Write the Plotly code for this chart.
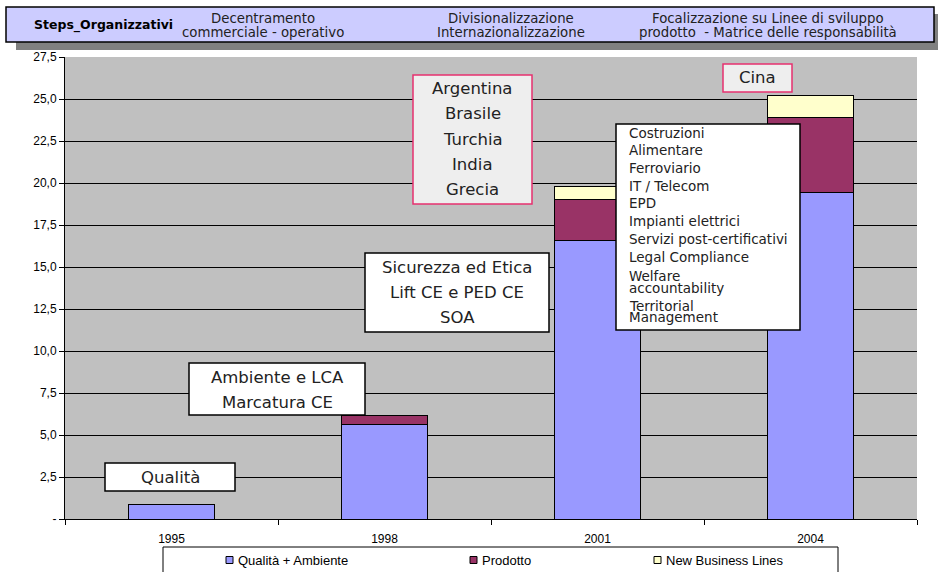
import plotly.graph_objects as go

# ---------------- data ----------------
years = ["1995", "1998", "2001", "2004"]
qualita_ambiente = [0.85, 5.65, 16.6, 19.45]
prodotto = [None, 0.5, 2.4, 4.47]
new_business_lines = [None, None, 0.8, 1.27]
series_names = ["Qualità + Ambiente", "Prodotto", "New Business Lines"]
series_colors = ["#9999FF", "#993366", "#FFFFCC"]

y_tickvals = [0, 2.5, 5, 7.5, 10, 12.5, 15, 17.5, 20, 22.5, 25, 27.5]
y_ticktext = ["-", "2,5", "5,0", "7,5", "10,0", "12,5", "15,0", "17,5",
              "20,0", "22,5", "25,0", "27,5"]

header_title = "Steps_Organizzativi"
header_steps = [
    ["Decentramento", "commerciale - operativo"],
    ["Divisionalizzazione", "Internazionalizzazione"],
    ["Focalizzazione su Linee di sviluppo", "prodotto  - Matrice delle responsabilità"],
]

box_qualita = ["Qualità"]
box_ambiente = ["Ambiente e LCA", "Marcatura CE"]
box_sicurezza = ["Sicurezza ed Etica", "Lift CE e PED CE", "SOA"]
box_paesi = ["Argentina", "Brasile", "Turchia", "India", "Grecia"]
box_cina = ["Cina"]
box_settori = ["Costruzioni", "Alimentare", "Ferroviario", "IT / Telecom", "EPD",
               "Impianti elettrici", "Servizi post-certificativi", "Legal Compliance",
               "Welfare", "accountability", "Territorial", "Management"]

# ---------------- layout geometry (pixels) ----------------
W, H = 938, 572
L, R, T, B = 65, 917, 57, 519
PW, PH = R - L, B - T


def px(x):
    return (x - L) / PW


def py(y):
    return (B - y) / PH


BOX_FONT = "DejaVu Sans, Verdana, sans-serif"
ARIAL = "Liberation Sans, Arial, sans-serif"

fig = go.Figure()
for vals, name, col in zip([qualita_ambiente, prodotto, new_business_lines],
                           series_names, series_colors):
    fig.add_trace(go.Bar(x=years, y=vals, name=name, marker_color=col,
                         marker_line_color="#000000", marker_line_width=1,
                         showlegend=False))

shapes = []
annotations = []


def rect(x0, y0, x1, y1, fill, line="#000000", lw=1.5):
    shapes.append(dict(type="rect", xref="paper", yref="paper",
                       x0=px(x0), x1=px(x1), y0=py(y1), y1=py(y0),
                       fillcolor=fill, line=dict(color=line, width=lw),
                       layer="above"))


def text(x, y, s, size, family=BOX_FONT, anchor="center", bold=False, color="#222222"):
    if bold:
        s = "<b>" + s + "</b>"
    annotations.append(dict(xref="paper", yref="paper", x=px(x), y=py(y),
                            text=s, showarrow=False, xanchor=anchor, yanchor="middle",
                            font=dict(family=family, size=size, color=color)))


# header
rect(16, 14, 942, 50, "#808080", line="#808080", lw=0)
rect(6, 7, 934, 42, "#CCCCFF", lw=1.5)
text(103, 25, header_title, 12.5, bold=True, color="#000000")
header_x = [263, 511, 768]
for cx, lines in zip(header_x, header_steps):
    text(cx, 18.3, lines[0], 13.3)
    text(cx, 32.7, lines[1], 13.3)

# annotation boxes
rect(105, 463, 235, 491, "#FFFFFF")
text(170, 477, box_qualita[0], 16.5)

rect(189, 363, 365, 415, "#FFFFFF")
for yy, s in zip([377, 402], box_ambiente):
    text(277, yy, s, 16.5)

rect(365, 253, 549, 332, "#FFFFFF")
for yy, s in zip([267, 292, 317], box_sicurezza):
    text(457, yy, s, 16.5)

rect(413, 75, 532, 204, "#EEEEEE", line="#E6306F", lw=1.5)
for yy, s in zip([88, 113, 139, 164, 189], box_paesi):
    text(472.5, yy, s, 16.5)

rect(723, 64, 792, 92, "#EEEEEE", line="#E6306F", lw=1.5)
text(757.5, 78, box_cina[0], 16.5)

rect(616, 124, 800, 330, "#FFFFFF")
settori_y = [133, 150.5, 168, 185.5, 203, 220.5, 239, 257, 276, 288, 306, 317]
for yy, s in zip(settori_y, box_settori):
    text(627, yy, s, 13.5, anchor="left")

# legend (manual)
rect(163, 547, 838, 590, "#FFFFFF", lw=1)
sq_x = [226, 470, 654]
for sx, name, col in zip(sq_x, series_names, series_colors):
    rect(sx, 556.5, sx + 7, 563.5, col, lw=1)
    text(sx + 10, 560, name, 13, family=ARIAL, anchor="left", color="#000000")

fig.update_layout(
    width=W, height=H, autosize=False,
    margin=dict(l=L, r=W - R, t=T, b=H - B, pad=0),
    paper_bgcolor="#FFFFFF", plot_bgcolor="#C0C0C0",
    barmode="stack", bargap=0.6,
    shapes=shapes, annotations=annotations,
    font=dict(family=ARIAL, color="#000000"),
)
fig.update_yaxes(range=[0, 27.5], tickvals=y_tickvals, ticktext=y_ticktext,
                 showgrid=True, gridcolor="#000000", gridwidth=1,
                 showline=True, linecolor="#000000", linewidth=1,
                 ticks="outside", ticklen=5, tickcolor="#000000",
                 zeroline=False, tickfont=dict(family=ARIAL, size=12, color="#000000"))
fig.update_xaxes(type="category", tickson="boundaries", ticks="outside", ticklen=5,
                 ticklabelstandoff=9,
                 tickcolor="#000000", showline=True, linecolor="#000000", linewidth=1,
                 showgrid=False, tickfont=dict(family=ARIAL, size=12, color="#000000"))

fig.write_html("out.html", config={"displayModeBar": False},
               post_script="document.body.style.margin='0';document.body.style.overflow='hidden';")
